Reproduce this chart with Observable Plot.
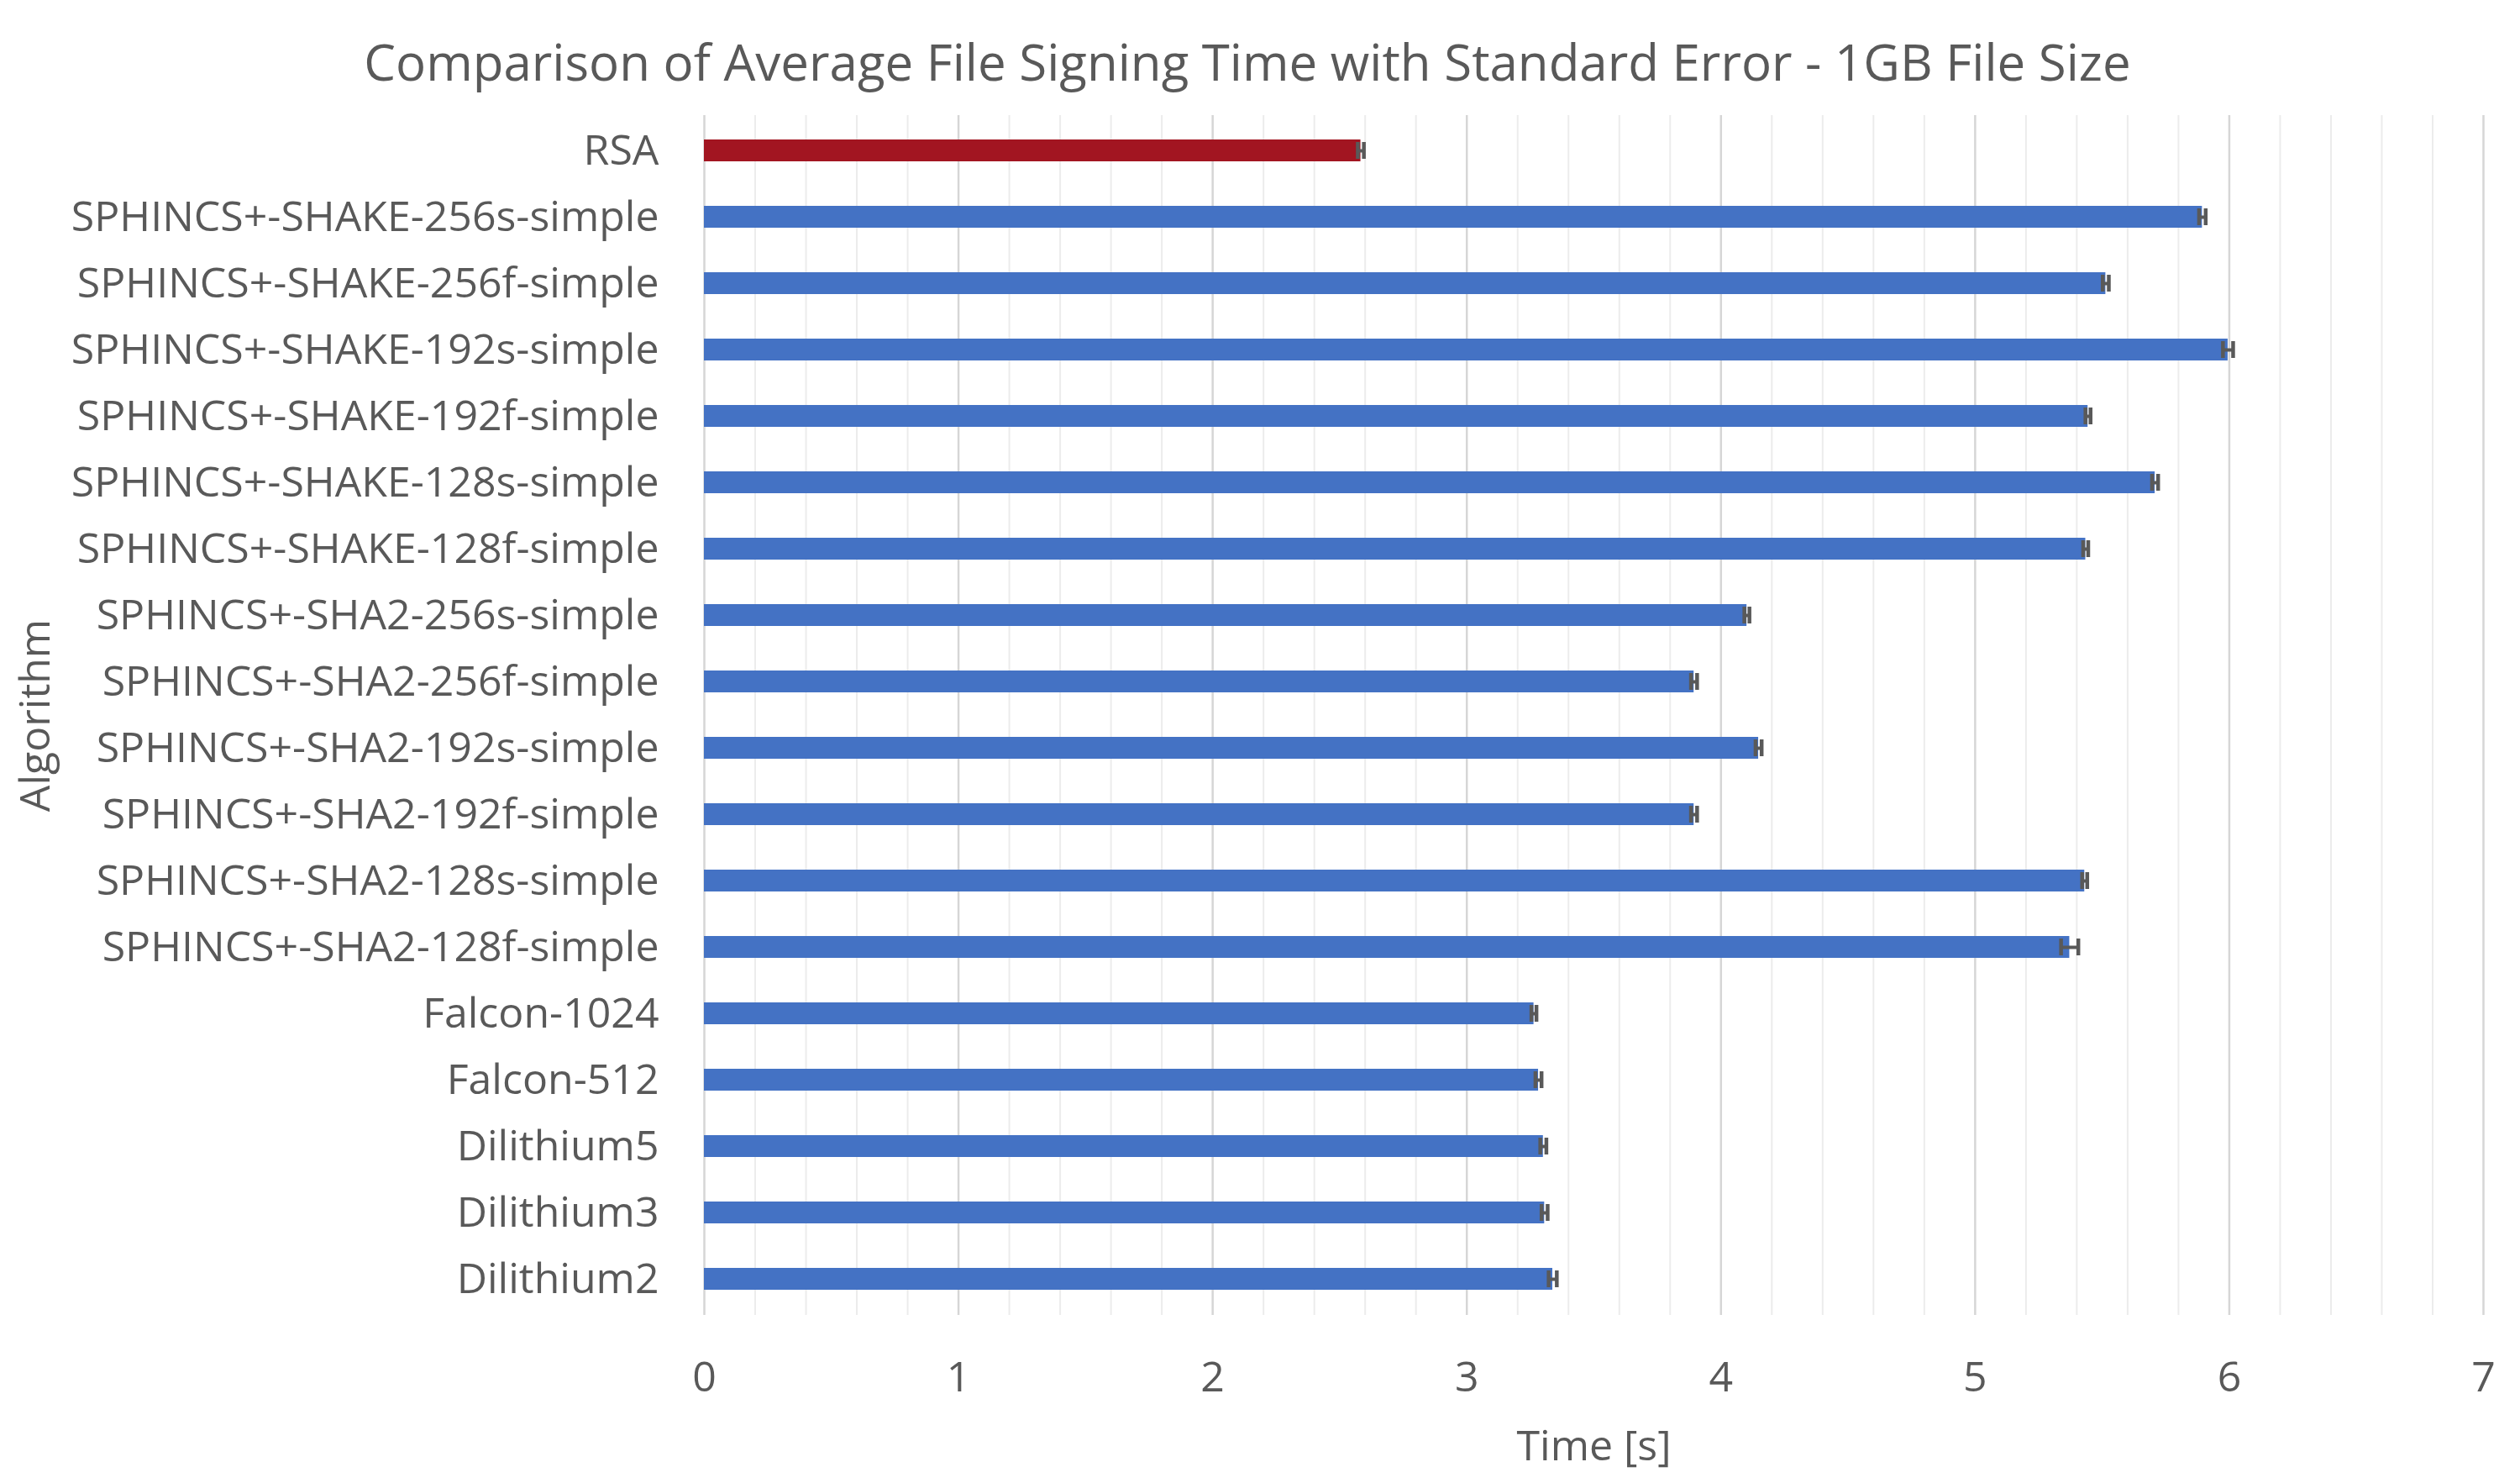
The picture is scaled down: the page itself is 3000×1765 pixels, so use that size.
<!DOCTYPE html>
<html>
<head>
<meta charset="utf-8">
<script src="https://cdn.jsdelivr.net/npm/d3@7"></script>
<script src="https://cdn.jsdelivr.net/npm/@observablehq/plot@0.6"></script>
<style>
  html, body { margin: 0; padding: 0; background: #ffffff; }
  #wrap { width: 3000px; height: 1765px; position: relative; overflow: hidden; }
  #title {
    height: 85px; padding-top: 35px; line-height: 76px;
    text-align: center; padding-right: 30px;
    font-family: "Open Sans", sans-serif; font-size: 60px; color: #595959;
    white-space: nowrap;
  }
</style>
</head>
<body>
<div id="wrap">
  <div id="title">Comparison of Average File Signing Time with Standard Error - 1GB File Size</div>
  <div id="chart"></div>
</div>
<script>
const algorithms = [
  "RSA",
  "SPHINCS+-SHAKE-256s-simple",
  "SPHINCS+-SHAKE-256f-simple",
  "SPHINCS+-SHAKE-192s-simple",
  "SPHINCS+-SHAKE-192f-simple",
  "SPHINCS+-SHAKE-128s-simple",
  "SPHINCS+-SHAKE-128f-simple",
  "SPHINCS+-SHA2-256s-simple",
  "SPHINCS+-SHA2-256f-simple",
  "SPHINCS+-SHA2-192s-simple",
  "SPHINCS+-SHA2-192f-simple",
  "SPHINCS+-SHA2-128s-simple",
  "SPHINCS+-SHA2-128f-simple",
  "Falcon-1024",
  "Falcon-512",
  "Dilithium5",
  "Dilithium3",
  "Dilithium2"
];
const meanTime = [2.583, 5.894, 5.514, 5.995, 5.444, 5.708, 5.435, 4.102, 3.894, 4.148, 3.894, 5.431, 5.372, 3.264, 3.282, 3.301, 3.306, 3.338];
const stdError = [0.012, 0.013, 0.012, 0.02, 0.01, 0.012, 0.01, 0.01, 0.012, 0.012, 0.012, 0.01, 0.034, 0.01, 0.012, 0.012, 0.012, 0.016];
const majorTicks = [0, 1, 2, 3, 4, 5, 6, 7];
const minorStep = 0.2;

const data = algorithms.map((a, i) => ({
  algorithm: a, time: meanTime[i], se: stdError[i],
  lo: meanTime[i] - stdError[i], hi: meanTime[i] + stdError[i]
}));
const minorTicks = d3.range(0, 7 + 1e-9, minorStep).filter(t => Math.abs(t - Math.round(t)) > 1e-6);

const font = "Open Sans, sans-serif";
const chart = Plot.plot({
  width: 3000,
  height: 1645,
  marginTop: 17,
  marginBottom: 200,
  marginLeft: 838,
  marginRight: 44,
  style: { fontFamily: font, fontSize: "50px", color: "#595959", background: "#ffffff" },
  x: { domain: [0, 7], label: null },
  y: { domain: algorithms, paddingInner: 0.67, paddingOuter: 0.3, label: null },
  color: { domain: ["RSA", "other"], range: ["#A21521", "#4472C4"] },
  marks: [
    Plot.ruleX(minorTicks, { stroke: "#ececec", strokeWidth: 2 }),
    Plot.ruleX(majorTicks, { stroke: "#d6d6d6", strokeWidth: 2.5 }),
    Plot.barX(data, {
      y: "algorithm", x1: 0, x2: "time",
      fill: d => d.algorithm === "RSA" ? "RSA" : "other"
    }),
    Plot.ruleY(data, { y: "algorithm", x1: "lo", x2: "hi", stroke: "#595959", strokeWidth: 4 }),
    Plot.tickX(data, { y: "algorithm", x: "lo", stroke: "#595959", strokeWidth: 4.5, insetTop: 3, insetBottom: 3 }),
    Plot.tickX(data, { y: "algorithm", x: "hi", stroke: "#595959", strokeWidth: 4.5, insetTop: 3, insetBottom: 3 }),
    Plot.axisY({
      tickSize: 0, tickPadding: 54, fontSize: 50,
      label: "Algorithm", labelAnchor: "center", labelArrow: "none", labelOffset: 815
    }),
    Plot.axisX({
      ticks: majorTicks, tickFormat: d3.format("d"), tickSize: 0, tickPadding: 55, fontSize: 50,
      label: "Time [s]", labelAnchor: "center", labelArrow: "none", labelOffset: 172
    })
  ]
});
document.getElementById("chart").appendChild(chart);
</script>
</body>
</html>
